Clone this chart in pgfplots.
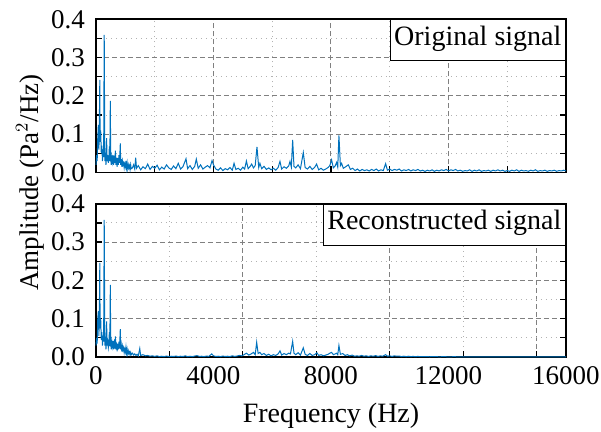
\documentclass[border=0pt]{standalone}
\usepackage{fontspec}
\setmainfont{Liberation Serif}
\usepackage{pgfplots}
\pgfplotsset{compat=1.18}
\definecolor{mblue}{rgb}{0,0.447,0.741}
\pgfplotsset{
  myax/.style={
    scale only axis, width=235pt, height=76.6pt,
    xmin=0, xmax=16000, ymin=0, ymax=0.4,
    ytick={0,0.1,0.2,0.3,0.4},
    minor y tick num=1,
    yticklabel style={/pgf/number format/fixed, /pgf/number format/fixed zerofill, /pgf/number format/precision=1, /pgf/number format/assume math mode=true, xshift=-2pt},
    tick label style={font=\fontsize{13.5}{14}\selectfont},
    xticklabel style={yshift=-1pt},
    ytick pos=both, yticklabel pos=left,
    xtick pos=left,
    tick align=inside,
    major tick length=3pt, minor tick length=3pt,
    axis line style={line width=0.8pt},
    every tick/.style={black, line width=0.6pt},
    grid=both,
    major grid style={dash pattern=on 2.5pt off 1.5pt, color=black!50, line width=0.5pt},
    minor grid style={dash pattern=on 0.5pt off 2pt, color=black!30, line width=0.5pt},
    scaled ticks=false,
    clip=false,
  }
}
\begin{document}
\begin{tikzpicture}
\begin{axis}[myax, name=top,
  xtick={0,4000,8000,12000,16000}, minor x tick num=1, xticklabels={,,,,},
]
\addplot[mblue, line width=0.5pt] coordinates {
(0,0.02)(20,0.045)(40,0.03)(60,0.09)(80,0.124)(100,0.06)(120,0.17)(130,0.242)(140,0.08)(160,0.11)
(180,0.05)(200,0.07)(220,0.03)(240,0.06)(260,0.04)(280,0.359)(300,0.03)(320,0.05)(340,0.02)(360,0.09)
(380,0.03)(400,0.045)(420,0.025)(440,0.04)(455,0.068)(470,0.03)(488,0.187)(500,0.035)(520,0.02)(540,0.04)
(560,0.028)(580,0.045)(600,0.02)(620,0.035)(640,0.025)(660,0.057)(680,0.02)(700,0.03)(720,0.015)(740,0.038)
(760,0.02)(780,0.045)(800,0.025)(828,0.076)(840,0.02)(860,0.035)(880,0.015)(900,0.03)(920,0.02)(940,0.025)
(960,0.012)(980,0.022)(1000,0.015)(1020,0.03)(1040,0.012)(1060,0.025)(1080,0.01)(1100,0.02)(1120,0.012)(1140,0.018)
(1160,0.008)(1180,0.02)(1200,0.01)(1240,0.012)(1280,0.02)(1320,0.009)(1350,0.039)(1380,0.011)(1440,0.018)(1520,0.007)
(1600,0.015)(1680,0.01)(1760,0.022)(1840,0.008)(1920,0.016)(2000,0.011)(2080,0.019)(2160,0.007)(2240,0.014)(2320,0.009)
(2400,0.02)(2480,0.012)(2560,0.008)(2640,0.017)(2720,0.01)(2800,0.024)(2880,0.009)(2960,0.015)(3064,0.036)(3120,0.01)
(3200,0.018)(3280,0.008)(3360,0.016)(3415,0.035)(3480,0.011)(3560,0.02)(3640,0.009)(3720,0.014)(3800,0.018)(3880,0.012)
(3950,0.031)(4000,0.02)(4080,0.009)(4160,0.006)(4240,0.012)(4320,0.005)(4400,0.01)(4480,0.007)(4560,0.013)(4640,0.006)
(4700,0.024)(4760,0.008)(4840,0.011)(4920,0.006)(5000,0.014)(5060,0.009)(5120,0.03)(5180,0.01)(5240,0.015)(5300,0.022)
(5360,0.012)(5420,0.018)(5480,0.067)(5540,0.013)(5580,0.024)(5640,0.01)(5720,0.016)(5800,0.008)(5880,0.012)(5960,0.007)
(6040,0.011)(6120,0.006)(6200,0.013)(6263,0.029)(6320,0.009)(6400,0.015)(6480,0.011)(6560,0.017)(6604,0.029)(6650,0.014)
(6695,0.085)(6740,0.016)(6800,0.012)(6880,0.02)(6960,0.01)(7057,0.052)(7120,0.013)(7200,0.009)(7280,0.016)(7360,0.008)
(7440,0.013)(7510,0.022)(7580,0.007)(7660,0.011)(7740,0.006)(7820,0.009)(7900,0.013)(7960,0.018)(8020,0.033)(8080,0.012)
(8140,0.017)(8190,0.026)(8230,0.014)(8270,0.097)(8320,0.018)(8360,0.024)(8420,0.011)(8500,0.015)(8590,0.02)(8660,0.008)
(8740,0.011)(8820,0.005)(8900,0.009)(8980,0.004)(9060,0.008)(9140,0.005)(9220,0.007)(9300,0.004)(9380,0.008)(9460,0.005)
(9540,0.009)(9620,0.004)(9700,0.007)(9780,0.005)(9860,0.023)(9920,0.006)(10000,0.009)(10080,0.005)(10160,0.008)(10240,0.006)
(10320,0.009)(10400,0.004)(10480,0.007)(10560,0.005)(10640,0.008)(10720,0.004)(10800,0.007)(10880,0.005)(10960,0.008)(11040,0.004)
(11120,0.006)(11200,0.003)(11280,0.006)(11360,0.004)(11440,0.007)(11520,0.003)(11600,0.006)(11680,0.004)(11760,0.007)(11840,0.005)
(11920,0.008)(12000,0.004)(12080,0.007)(12160,0.005)(12240,0.008)(12320,0.004)(12400,0.006)(12480,0.003)(12560,0.005)(12640,0.004)
(12720,0.007)(12800,0.003)(12880,0.006)(12960,0.004)(13040,0.007)(13120,0.003)(13200,0.005)(13280,0.004)(13360,0.006)(13440,0.003)
(13520,0.006)(13600,0.004)(13680,0.007)(13760,0.004)(13840,0.006)(13920,0.003)(14000,0.005)(14080,0.003)(14160,0.006)(14240,0.004)
(14320,0.007)(14400,0.003)(14480,0.006)(14560,0.004)(14640,0.005)(14720,0.003)(14800,0.006)(14880,0.004)(14960,0.007)(15040,0.003)
(15120,0.005)(15200,0.004)(15280,0.006)(15360,0.003)(15440,0.005)(15520,0.004)(15600,0.006)(15680,0.003)(15760,0.005)(15840,0.004)
(15920,0.006)(16000,0.004)
};
\node[draw=black, line width=0.6pt, fill=white, anchor=north east, inner xsep=2pt, inner ysep=5.5pt,
  text height=0.72em, text depth=0.22em, font=\fontsize{14}{16}\selectfont] at (rel axis cs:1,1) {Original signal};
\node[rotate=90, font=\fontsize{13.5}{16}\selectfont] at ([xshift=-33pt,yshift=-5pt]rel axis cs:0,0) {Amplitude (Pa$^2$/Hz)};
\end{axis}
\begin{axis}[myax, name=bot, at={(top.south west)}, anchor=north west, yshift=-15.65pt,
  xtick={0,5000,10000,15000}, minor x tick num=1, xticklabels={,,,},
  extra x ticks={0,4000,8000,12000,16000},
  extra x tick labels={0,4000,8000,12000,16000},
  extra x tick style={grid=none, tick style={draw=none}},
  xlabel={Frequency (Hz)},
  xlabel style={at={(rel axis cs:0.5,0)}, anchor=north, yshift=-19.5pt, font=\fontsize{14}{16}\selectfont},
]
\addplot[mblue, line width=0.5pt] coordinates {
(0,0.03)(20,0.05)(40,0.035)(60,0.1)(80,0.12)(100,0.055)(120,0.16)(130,0.246)(140,0.075)(160,0.1)
(180,0.045)(200,0.065)(220,0.03)(240,0.055)(260,0.04)(280,0.358)(300,0.03)(320,0.05)(340,0.02)(360,0.093)
(380,0.03)(400,0.04)(420,0.025)(440,0.04)(455,0.065)(470,0.028)(488,0.188)(500,0.035)(520,0.02)(540,0.04)
(560,0.028)(580,0.042)(600,0.02)(620,0.035)(640,0.022)(660,0.054)(680,0.02)(700,0.03)(720,0.015)(740,0.035)
(760,0.02)(780,0.04)(800,0.022)(828,0.073)(840,0.02)(860,0.032)(880,0.014)(900,0.028)(920,0.018)(940,0.024)
(960,0.011)(980,0.02)(1000,0.013)(1020,0.026)(1040,0.01)(1060,0.02)(1080,0.008)(1100,0.016)(1120,0.009)(1140,0.013)
(1160,0.006)(1180,0.012)(1200,0.006)(1240,0.01)(1280,0.005)(1320,0.008)(1360,0.004)(1400,0.007)(1440,0.003)(1490,0.022)
(1520,0.004)(1600,0.006)(1680,0.003)(1760,0.004)(1840,0.002)(1920,0.003)(2000,0.0015)(2080,0.003)(2160,0.001)(2240,0.002)
(2320,0.001)(2400,0.0025)(2480,0.001)(2560,0.002)(2640,0.0012)(2720,0.0025)(2800,0.001)(2880,0.002)(2960,0.0012)(3040,0.003)
(3120,0.001)(3200,0.002)(3280,0.001)(3360,0.0025)(3440,0.0035)(3520,0.0015)(3600,0.002)(3680,0.001)(3760,0.0025)(3840,0.0015)
(3940,0.008)(4000,0.003)(4080,0.0015)(4160,0.002)(4240,0.001)(4320,0.0025)(4400,0.0012)(4480,0.002)(4560,0.001)(4640,0.003)
(4720,0.0015)(4800,0.0025)(4880,0.004)(4960,0.003)(5040,0.006)(5120,0.01)(5200,0.005)(5280,0.008)(5360,0.012)(5420,0.006)
(5470,0.0385)(5520,0.009)(5580,0.012)(5640,0.006)(5720,0.009)(5800,0.004)(5880,0.007)(5960,0.003)(6040,0.006)(6120,0.004)
(6200,0.008)(6263,0.016)(6320,0.005)(6400,0.009)(6480,0.006)(6560,0.01)(6620,0.008)(6695,0.041)(6740,0.01)(6800,0.006)
(6880,0.011)(6960,0.005)(7057,0.024)(7120,0.007)(7200,0.004)(7280,0.009)(7360,0.004)(7440,0.006)(7520,0.011)(7580,0.004)
(7660,0.006)(7740,0.003)(7820,0.005)(7900,0.007)(7960,0.01)(8020,0.012)(8080,0.006)(8140,0.008)(8190,0.01)(8230,0.006)
(8270,0.03)(8320,0.007)(8400,0.009)(8480,0.004)(8560,0.006)(8640,0.003)(8720,0.005)(8800,0.002)(8880,0.003)(8960,0.002)
(9040,0.004)(9120,0.002)(9200,0.003)(9280,0.0015)(9360,0.003)(9440,0.002)(9520,0.0035)(9600,0.0015)(9680,0.003)(9760,0.002)
(9860,0.006)(9920,0.002)(10000,0.003)(10080,0.0015)(10160,0.003)(10240,0.002)(10320,0.0025)(10400,0.001)(10480,0.002)(10560,0.001)
(10640,0.002)(10720,0.001)(10800,0.0015)(10880,0.0008)(10960,0.0015)(11040,0.0008)(11200,0.001)(11360,0.0006)(11520,0.001)(11680,0.0005)
(11840,0.0008)(12000,0.0005)(12200,0.0007)(12400,0.0004)(12600,0.0006)(12800,0.0004)(13000,0.0006)(13200,0.0004)(13400,0.0005)(13600,0.0003)
(13800,0.0005)(14000,0.0003)(14200,0.0005)(14400,0.0003)(14600,0.0004)(14800,0.0003)(15000,0.0004)(15200,0.0003)(15400,0.0004)(15600,0.0003)
(15800,0.0004)(16000,0.0003)
};
\node[draw=black, line width=0.6pt, fill=white, anchor=north east, inner xsep=2pt, inner ysep=5.5pt,
  text height=0.72em, text depth=0.22em, font=\fontsize{14}{16}\selectfont] at (rel axis cs:1,1) {Reconstructed signal};
\end{axis}
\pgfresetboundingbox
\path[use as bounding box] ([xshift=-48pt,yshift=9.65pt]top.north west) rectangle ([xshift=17.5pt,yshift=-37.15pt]bot.south east);
\end{tikzpicture}
\end{document}
